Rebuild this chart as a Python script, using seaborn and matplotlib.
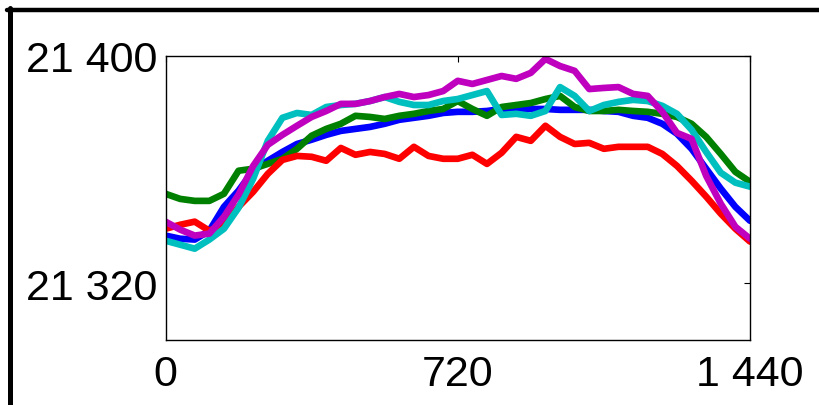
import numpy as np
import pandas as pd
import matplotlib
matplotlib.use("Agg")
import matplotlib.pyplot as plt
from matplotlib.ticker import FuncFormatter
from matplotlib.lines import Line2D
import seaborn as sns

minutes = list(range(0, 1441, 36))

blue = [21336.7, 21335.6, 21335.3, 21338.4, 21346.8, 21352.5, 21359.5, 21363.0, 21366.1, 21368.9,
        21370.4, 21372.1, 21373.5, 21374.2, 21374.9, 21376.0, 21377.4, 21378.1, 21378.8, 21379.8,
        21380.2, 21380.2, 21380.5, 21381.2, 21381.2, 21381.2, 21381.2, 21380.9, 21380.9, 21380.9,
        21380.5, 21380.2, 21378.8, 21378.1, 21376.0, 21372.5, 21367.2, 21360.2, 21353.2, 21346.8,
        21341.9]
green = [21351.4, 21349.6, 21348.9, 21348.9, 21351.4, 21359.5, 21360.2, 21361.9, 21363.7, 21367.2,
         21371.8, 21374.2, 21376.0, 21378.8, 21378.4, 21377.7, 21378.8, 21379.5, 21380.5, 21381.2,
         21384.0, 21381.2, 21378.8, 21381.9, 21382.6, 21383.3, 21384.7, 21385.8, 21381.9, 21380.5,
         21380.5, 21380.9, 21380.5, 21380.2, 21379.5, 21378.4, 21376.0, 21371.4, 21365.4, 21359.1,
         21355.6]
red = [21339.1, 21340.5, 21341.6, 21338.4, 21340.5, 21346.8, 21352.1, 21358.4, 21363.3, 21364.7,
       21364.4, 21363.0, 21367.5, 21365.1, 21366.1, 21365.4, 21363.7, 21367.9, 21364.7, 21363.7,
       21363.7, 21365.1, 21361.9, 21365.8, 21371.4, 21370.0, 21375.3, 21371.4, 21368.9, 21369.3,
       21367.2, 21367.9, 21367.9, 21367.9, 21365.4, 21361.2, 21356.0, 21350.4, 21344.4, 21339.1,
       21334.6]
cyan = [21334.9, 21333.5, 21332.1, 21335.3, 21339.1, 21346.5, 21356.7, 21370.0, 21378.1, 21379.8,
        21379.1, 21381.9, 21382.6, 21383.0, 21384.0, 21385.4, 21383.7, 21382.6, 21382.6, 21384.0,
        21384.7, 21386.1, 21387.5, 21379.1, 21379.5, 21378.8, 21380.5, 21388.9, 21385.8, 21380.5,
        21382.6, 21383.7, 21384.4, 21384.0, 21382.3, 21379.5, 21373.9, 21366.1, 21358.8, 21355.3,
        21353.9]
magenta = [21341.6, 21338.8, 21336.7, 21337.4, 21343.3, 21351.1, 21361.2, 21368.6, 21372.1, 21375.3,
           21378.4, 21380.5, 21383.0, 21383.0, 21384.0, 21385.4, 21386.5, 21385.4, 21386.1, 21387.5,
           21391.1, 21390.0, 21391.4, 21392.8, 21391.8, 21393.9, 21398.8, 21396.3, 21394.6, 21388.2,
           21388.6, 21388.9, 21386.5, 21385.8, 21380.2, 21372.8, 21370.7, 21357.7, 21347.9, 21339.8,
           21335.6]

series_names = ["b", "g", "r", "c", "m"]
series_values = [blue, green, red, cyan, magenta]
colors = ["#0000ff", "#008000", "#ff0000", "#00bfbf", "#bf00bf"]

xticks = [0, 720, 1440]
yticks = [21320, 21400]

rows = []
for name, vals in zip(series_names, series_values):
    for m, v in zip(minutes, vals):
        rows.append({"minute": m, "value": v, "series": name})
df = pd.DataFrame(rows)

sns.set_style("white")
plt.rcParams["font.family"] = ["Liberation Sans", "DejaVu Sans"]

fig = plt.figure(figsize=(8.19, 4.06), dpi=100)
ax = fig.add_axes([165.5 / 819, 1 - 341 / 406, (750 - 165.5) / 819, (341 - 56.5) / 406])

sns.lineplot(data=df, x="minute", y="value", hue="series", palette=dict(zip(series_names, colors)),
             linewidth=4.8, legend=False, ax=ax, estimator=None, sort=False,
             solid_capstyle="round", solid_joinstyle="round")

ax.set_xlim(0, 1440)
ax.set_ylim(21300, 21400)
ax.set_xticks(xticks)
ax.set_yticks(yticks)
fmt = FuncFormatter(lambda v, p: f"{int(round(v)):,}".replace(",", " "))
ax.xaxis.set_major_formatter(fmt)
ax.yaxis.set_major_formatter(fmt)
ax.set_xlabel("")
ax.set_ylabel("")
ax.tick_params(direction="in", length=4, width=0.8, top=True, right=True, labelsize=31,
               colors="black")
ax.tick_params(axis="y", pad=6)
ax.tick_params(axis="x", pad=10)
for s in ax.spines.values():
    s.set_visible(True)
    s.set_color("black")
    s.set_linewidth(1.0)

# figure frame (top and left thick borders)
fig.add_artist(Line2D([7 / 819, 1.0], [1 - 10.5 / 406, 1 - 10.5 / 406], color="black", linewidth=3.2,
                      transform=fig.transFigure))
fig.add_artist(Line2D([10 / 819, 10 / 819], [0.0, 1 - 8.5 / 406], color="black", linewidth=3.6,
                      transform=fig.transFigure))

fig.savefig("out.png", dpi=100)
